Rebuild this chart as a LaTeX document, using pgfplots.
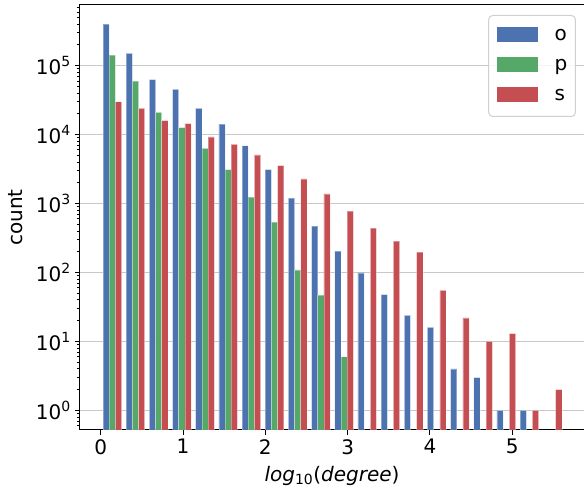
\documentclass[border=0pt]{standalone}
\usepackage{fontspec}
\setmainfont{DejaVu Sans}
\usepackage{pgfplots}
\pgfplotsset{compat=1.18}
\usepackage{pgfplotstable}

\definecolor{cO}{HTML}{4C72B0}
\definecolor{cP}{HTML}{55A868}
\definecolor{cS}{HTML}{C44E52}
\definecolor{gridc}{HTML}{C8C8C8}
\definecolor{legc}{HTML}{D0D0D0}

% histogram counts per bin (20 bins of log10(degree), width 0.2815)
\pgfplotstableread{
i  o       p       s
0  4.0e5   1.42e5  3.0e4
1  1.51e5  6.0e4   2.4e4
2  6.3e4   2.1e4   1.6e4
3  4.55e4  1.26e4  1.45e4
4  2.4e4   6.3e3   9.3e3
5  1.42e4  3.1e3   7.2e3
6  6.9e3   1.24e3  5.1e3
7  3.1e3   540     3.55e3
8  1.2e3   109     2.28e3
9  470     47      1.38e3
10 205     6       780
11 99      nan     442
12 48      nan     286
13 24      nan     198
14 16      nan     55
15 4       nan     22
16 3       nan     10
17 1       nan     13
18 1       nan     1
19 nan     nan     2
}\hist

\newcommand{\fs}{\fontsize{20}{24}\selectfont}

\begin{document}
\begin{tikzpicture}
\begin{axis}[
  name=ax, scale only axis, width=504pt, height=425pt,
  ymode=log, log origin=infty,
  ymin=0.52, ymax=7.6e5,
  xmin=-0.2515, xmax=5.871,
  ybar, bar width=0.07507,
  axis line style={line width=1pt},
  tick style={black, line width=1pt},
  major tick length=5pt, minor tick length=3pt,
  tick align=outside, tick pos=left,
  xtick={0,1,2,3,4,5}, xticklabels={0,1,2,3,4,5},
  ytick={1,10,100,1000,10000,100000},
  yticklabels={10\textsuperscript{0},10\textsuperscript{1},10\textsuperscript{2},10\textsuperscript{3},10\textsuperscript{4},10\textsuperscript{5}},
  minor ytick={0.6,0.7,0.8,0.9,2,3,4,5,6,7,8,9,20,30,40,50,60,70,80,90,
    200,300,400,500,600,700,800,900,2000,3000,4000,5000,6000,7000,8000,9000,
    2e4,3e4,4e4,5e4,6e4,7e4,8e4,9e4,2e5,3e5,4e5,5e5,6e5,7e5},
  ymajorgrids, major grid style={gridc, line width=1pt},
  xticklabel style={font=\fs, inner sep=4pt},
  yticklabel style={font=\fs, inner sep=4pt},
  xlabel={\textit{log}\textsubscript{10}(\textit{degree})},
  xlabel style={font=\fs, at={(axis description cs:0.5,-0.1216)}, anchor=base, inner sep=0pt},
  ylabel={count},
  ylabel style={font=\fs, at={(axis description cs:-0.1131,0.5)}, anchor=south, rotate=0, inner sep=0pt},
  legend image code/.code={\fill[#1, sharp corners, fill opacity=1, draw=none] (0pt,-1pt) rectangle (41pt,13.5pt);},
  legend style={at={(0.984,0.9765)}, anchor=north east,
    draw=legc, line width=1pt, rounded corners=4pt,
    fill=white, fill opacity=0.8, draw opacity=1, text opacity=1,
    font=\fs, inner xsep=8pt, inner ysep=12pt, row sep=13pt,
    nodes={inner sep=0pt, text height=12pt, text depth=3.5pt, anchor=base west},
    /tikz/every odd column/.append style={column sep=17pt}},
]
\addplot[fill=cO, draw=white, draw opacity=0.35, line width=0.6pt, bar shift=0pt]
  table[x expr={(\thisrow{i}+0.2333)*0.2815}, y=o]{\hist};
\addplot[fill=cP, draw=white, draw opacity=0.35, line width=0.6pt, bar shift=0pt]
  table[x expr={(\thisrow{i}+0.5)*0.2815}, y=p]{\hist};
\addplot[fill=cS, draw=white, draw opacity=0.35, line width=0.6pt, bar shift=0pt]
  table[x expr={(\thisrow{i}+0.7667)*0.2815}, y=s]{\hist};
\legend{o,p,s}
\end{axis}
\pgfresetboundingbox
\path[use as bounding box] ([shift={(-80pt,-61pt)}]ax.south west) rectangle ([shift={(0pt,5pt)}]ax.north east);
\end{tikzpicture}
\end{document}
